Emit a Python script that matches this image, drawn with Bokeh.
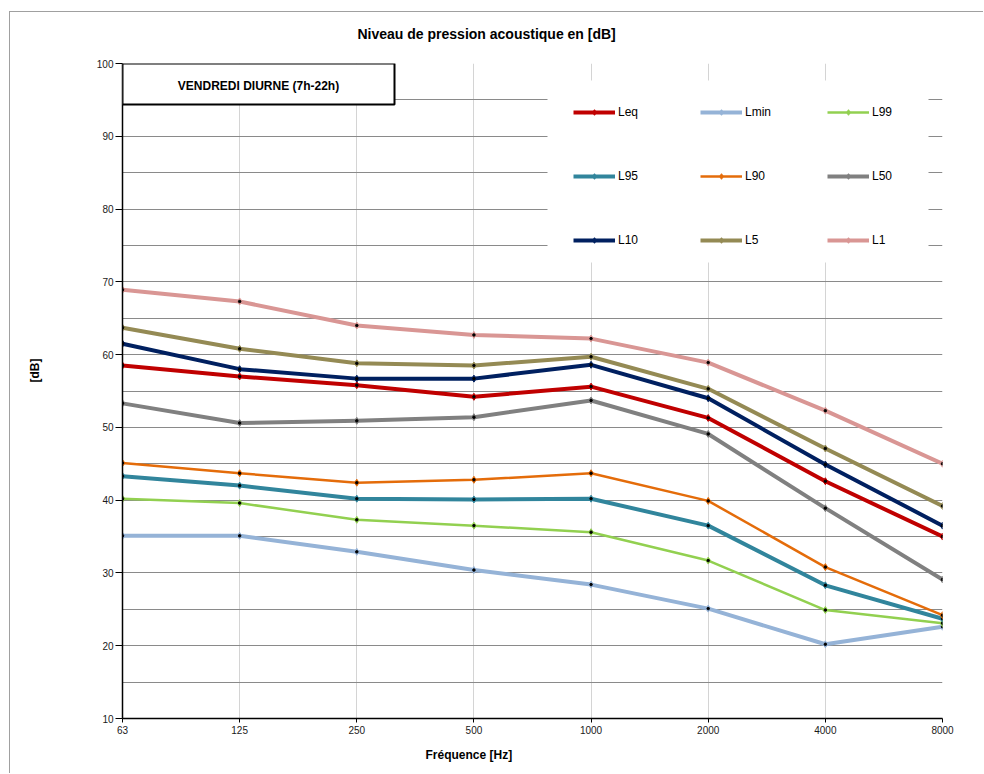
from bokeh.plotting import figure
from bokeh.models import (Range1d, FixedTicker, Legend, LegendItem, Label, BoxAnnotation,
                          Title, LinearAxis)
from bokeh.embed import file_html
from bokeh.resources import INLINE

# ---------------- data ----------------
freq_labels = ["63", "125", "250", "500", "1000", "2000", "4000", "8000"]
series_names = ["Leq", "Lmin", "L99", "L95", "L90", "L50", "L10", "L5", "L1"]
Leq  = [58.5, 57.0, 55.8, 54.2, 55.6, 51.3, 42.6, 35.0]
Lmin = [35.1, 35.1, 32.9, 30.4, 28.4, 25.1, 20.2, 22.6]
L99  = [40.2, 39.6, 37.3, 36.5, 35.6, 31.7, 24.9, 23.1]
L95  = [43.3, 42.0, 40.2, 40.1, 40.2, 36.5, 28.3, 23.7]
L90  = [45.1, 43.7, 42.4, 42.8, 43.7, 39.9, 30.8, 24.2]
L50  = [53.3, 50.6, 50.9, 51.4, 53.7, 49.1, 38.9, 29.1]
L10  = [61.5, 58.0, 56.7, 56.7, 58.6, 54.0, 44.9, 36.5]
L5   = [63.7, 60.8, 58.8, 58.5, 59.7, 55.3, 47.1, 39.2]
L1   = [68.9, 67.3, 64.0, 62.7, 62.2, 58.9, 52.3, 45.0]
values = [Leq, Lmin, L99, L95, L90, L50, L10, L5, L1]
colors = ["#C00000", "#95B3D7", "#92D050", "#31859C", "#E46C0A",
          "#808080", "#002060", "#948A54", "#D99694"]
widths = [4, 4, 2.5, 4, 2.5, 4, 4, 4, 4]
y_ticks = [10, 20, 30, 40, 50, 60, 70, 80, 90, 100]

# ---------------- layout ----------------
OX, OY = 10, 12                      # canvas origin on page (after margin + border)
W, H = 984 - OX, 774 - OY
FL, FR, FT, FB = 122, 942, 63, 718   # frame edges on page
p = figure(width=W, height=H, output_backend="svg", toolbar_location=None,
           x_range=Range1d(0, len(freq_labels) - 1), y_range=Range1d(10, 100),
           min_border_left=FL - OX, min_border_right=OX + W - FR,
           min_border_top=FT - OY, min_border_bottom=OY + H - FB)
p.margin = (11, 0, 0, 9)
p.styles = {"border-left": "1px solid #a0a0a0", "border-top": "1px solid #a0a0a0"}
p.outline_line_color = None
p.background_fill_color = "white"
p.border_fill_color = "white"

def px_x(x):
    return (x - FL) / (FR - FL) * (len(freq_labels) - 1)

def px_y(y):
    return 100 - (y - FT) / (FB - FT) * 90

# grid
p.ygrid.ticker = FixedTicker(ticks=list(range(10, 101, 5)))
p.ygrid.grid_line_color = "#8a8a8a"
p.ygrid.grid_line_width = 1
p.xgrid.ticker = FixedTicker(ticks=list(range(len(freq_labels))))
p.xgrid.grid_line_color = "#d4d4d4"
p.xgrid.grid_line_width = 1

# axes
p.xaxis.ticker = FixedTicker(ticks=list(range(len(freq_labels))))
p.xaxis.major_label_overrides = {i: s for i, s in enumerate(freq_labels)}
p.yaxis.ticker = FixedTicker(ticks=y_ticks)
for ax in (p.xaxis[0], p.yaxis[0]):
    ax.axis_line_color = "black"
    ax.axis_line_width = 1.5
    ax.major_tick_line_color = "black"
    ax.major_tick_in = 0
    ax.minor_tick_line_color = None
    ax.major_label_text_font = "Liberation Sans"
    ax.major_label_text_font_size = "10px"
    ax.major_label_text_color = "#1a1a1a"
p.xaxis.major_tick_out = 4
p.xaxis.major_label_standoff = 3
p.yaxis.major_tick_out = 7
p.yaxis.major_label_standoff = 2

def spacer(size, tick):
    # an invisible axis used only to reserve room between the frame and a title
    return LinearAxis(ticker=FixedTicker(ticks=[tick]), axis_line_color=None,
                      major_tick_line_color=None, minor_tick_line_color=None,
                      major_tick_out=size, major_tick_in=0, minor_tick_out=0,
                      minor_tick_in=0, major_label_standoff=0,
                      major_label_overrides={tick: ""},
                      major_label_text_font_size="1px")

bold = dict(text_font="Liberation Sans", text_font_style="bold", text_color="black")

# main title
p.add_layout(spacer(22, 0), "above")
p.add_layout(Title(text="Niveau de pression acoustique en [dB]", align="left",
                   offset=357 - FL, text_font_size="14px", standoff=0, **bold), "above")
# y axis title
p.add_layout(spacer(52, 10), "left")
p.add_layout(Title(text="[dB]", align="left", offset=FB - 382,
                   text_font_size="12px", standoff=0, **bold), "left")
# x axis title
p.add_layout(Title(text="Fréquence [Hz]", align="left", offset=425 - FL,
                   text_font_size="12px", standoff=18, **bold), "below")

# white area behind the legend
p.add_layout(BoxAnnotation(left=px_x(547), right=px_x(928), top=px_y(80), bottom=px_y(262),
                           fill_color="white", fill_alpha=1, line_color=None))

# series
items = []
for name, vals, col, lw in zip(series_names, values, colors, widths):
    xs = list(range(len(vals)))
    r1 = p.line(xs, vals, line_color=col, line_width=lw, line_join="round")
    r2 = p.scatter(xs, vals, marker="diamond", size=7, fill_color=col, line_color=col)
    p.scatter(xs, vals, marker="circle", size=2.5, fill_color="black", line_color="black")
    items.append(LegendItem(label=name, renderers=[r1, r2]))

legend = Legend(items=items, orientation="horizontal", ncols=3,
                location=(451, 467), glyph_width=42, glyph_height=14,
                label_height=22, label_width=40, label_standoff=3, spacing=42,
                padding=15, margin=0, border_line_color=None,
                background_fill_color="white", background_fill_alpha=1,
                label_text_font="Liberation Sans", label_text_font_size="12px",
                label_text_color="black")
p.add_layout(legend, "center")

# title box
p.add_layout(BoxAnnotation(left=0, right=px_x(394), top=100, bottom=px_y(104),
                           fill_color="white", fill_alpha=1,
                           line_color="black", line_alpha=1, line_width=2))
p.add_layout(Label(x=px_x(258), y=px_y(85), text="VENDREDI DIURNE (7h-22h)",
                   text_font_size="12px", text_align="center", text_baseline="middle",
                   **bold))

open("out.html", "w").write(file_html(p, INLINE))
